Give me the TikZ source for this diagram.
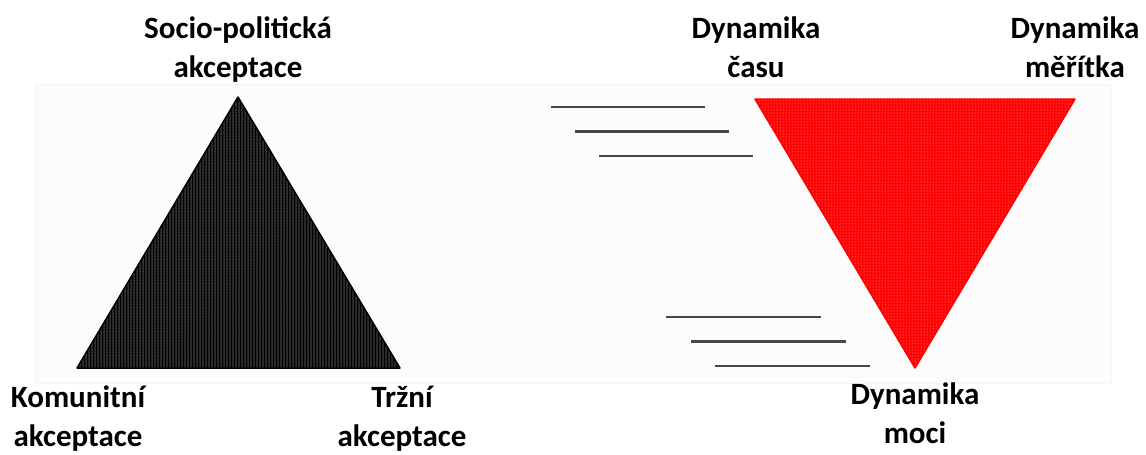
\documentclass[tikz,border=0pt]{standalone}
\usepackage{fontspec}
\setmainfont{Carlito}
\usetikzlibrary{patterns}
\tikzset{
  lbl/.style={font=\bfseries\fontsize{31}{39}\selectfont, align=center, inner sep=0pt, anchor=base},
  speed/.style={line width=2.5pt, black!72},
}
\begin{document}
\begin{tikzpicture}[x=1pt,y=-1pt]
\useasboundingbox (0,0) rectangle (1146,455);
\draw[black!4, fill=black!1] (35,84) rectangle (1111,383);
% left triangle
\coordinate (a) at (238,97);
\coordinate (b) at (77,368);
\coordinate (c) at (400,368);
\fill[black!85] (a) -- (b) -- (c) -- cycle;
\fill[pattern=dots, pattern color=black!35] (a) -- (b) -- (c) -- cycle;
\fill[pattern=vertical lines, pattern color=black] (a) -- (b) -- (c) -- cycle;
\draw[line width=1.5pt, line join=round] (a) -- (b) -- (c) -- cycle;
% right triangle
\coordinate (d) at (755,99);
\coordinate (e) at (1075,99);
\coordinate (f) at (915,368);
\fill[red] (d) -- (e) -- (f) -- cycle;
\fill[pattern=dots, pattern color=red!25] (d) -- (e) -- (f) -- cycle;
\draw[red, line width=1.5pt, line join=round] (d) -- (e) -- (f) -- cycle;
\foreach \i in {0,1,2} {
  \draw[speed] (551+24*\i,107+24.5*\i) -- ++(154,0);
  \draw[speed] (666+24.5*\i,317+24.5*\i) -- ++(155,0);
}
\node[lbl] (socio) at (238,77) {Socio-politická\\akceptace};
\node[lbl] (cas) at (756,77) {Dynamika\\času};
\node[lbl] (meritko) at (1075,77) {Dynamika\\měřítka};
\node[lbl] (komun) at (78,446) {Komunitní\\akceptace};
\node[lbl] (trzni) at (402,446) {Tržní\\akceptace};
\node[lbl] (moc) at (915,443) {Dynamika\\moci};
\end{tikzpicture}
\end{document}
